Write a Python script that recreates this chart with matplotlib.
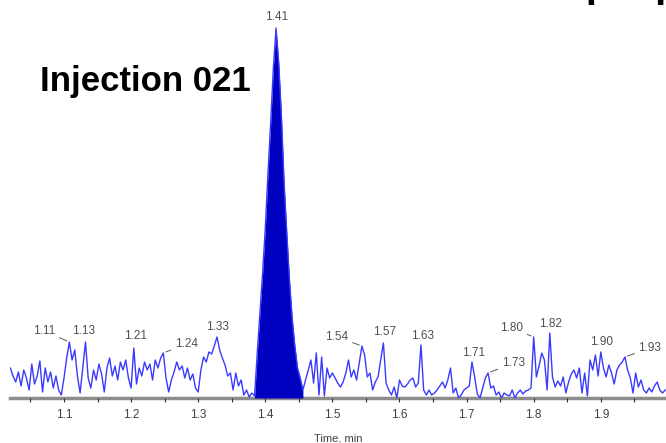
import matplotlib
matplotlib.use("Agg")
import matplotlib.pyplot as plt
import numpy as np

plt.rcParams['font.family'] = ['Liberation Sans', 'DejaVu Sans']

# acquisition grid (min) and signal
t_start = 1.020
t_step = 0.004
intensity = [
    # 1.020 - 1.096
    30, 22, 16, 26, 12, 28, 20, 8, 34, 14, 22, 37, 6, 30, 16, 26, 10, 22, 8, 3,
    # 1.100 - 1.196
    20, 40, 56, 38, 48, 22, 5, 30, 56, 20, 10, 28, 18, 34, 24, 6, 30, 40, 22, 32, 18, 36, 28, 38, 20,
    # 1.200 - 1.296
    10, 50, 14, 30, 22, 36, 28, 34, 18, 38, 30, 40, 45, 20, 6, 18, 26, 36, 28, 32, 20, 30, 18, 24, 10,
    # 1.300 - 1.396
    6, 28, 41, 36, 46, 44, 52, 61, 48, 40, 33, 22, 25, 8, 25, 12, 18, 3, 8, 1, 5, 2, 45, 85, 125,
    # 1.400 - 1.496
    170, 225, 275, 330, 370, 335, 282, 215, 165, 118, 80, 52, 30, 20, 8, 18, 28, 38, 15, 45, 3, 41, 2, 30, 20,
    # 1.500 - 1.596
    25, 20, 15, 11, 16, 25, 38, 21, 28, 18, 35, 52, 43, 21, 25, 8, 16, 21, 38, 55, 15, 8, 3, 11, 0,
    # 1.600 - 1.696
    18, 12, 11, 14, 18, 20, 11, 15, 53, 8, 3, 8, 3, 5, 8, 12, 16, 10, 18, 30, 5, 10, 0, 3, 8,
    # 1.700 - 1.796
    10, 12, 36, 21, 4, 0, 10, 20, 25, 10, 12, 3, 6, 0, 5, 3, 2, 8, 0, 5, 8, 4, 7, 8, 10,
    # 1.800 - 1.896
    61, 21, 32, 45, 38, 8, 65, 21, 11, 17, 12, 21, 5, 16, 24, 28, 20, 30, 5, 25, 2, 38, 28, 43, 22,
    # 1.900 - 1.996
    46, 30, 21, 33, 25, 14, 28, 33, 36, 41, 28, 20, 5, 25, 11, 18, 8, 5, 10, 6, 12, 16, 8, 5, 8,
]

# integrated peak window
peak_from = 1.384
peak_to = 1.456

# labelled apexes
label_times = [1.108, 1.132, 1.204, 1.248, 1.328, 1.416, 1.544, 1.576,
               1.632, 1.708, 1.732, 1.800, 1.824, 1.900, 1.936]
label_texts = ['1.11', '1.13', '1.21', '1.24', '1.33', '1.41', '1.54', '1.57',
               '1.63', '1.71', '1.73', '1.80', '1.82', '1.90', '1.93']
# text offset from apex in pixels, and whether a leader line is drawn
label_offsets = [(-25, 11), (-2, 11), (2, 12), (23, 9), (0, 10), (1, 11), (-25, 9), (1, 11),
                 (2, 9), (2, 9), (25, 10), (-22, 9), (1, 9), (1, 10), (25, 9)]
label_leader = [True, False, False, True, False, False, True, False,
                False, False, True, True, False, False, True]

time = t_start + t_step * np.arange(len(intensity))
intensity = np.array(intensity, dtype=float)

fig = plt.figure(figsize=(6.66, 4.43), dpi=100)
ax = fig.add_axes([10 / 666, 45 / 443, 656 / 666, 398 / 443])

in_peak = (time >= peak_from) & (time <= peak_to)
ax.fill_between(time, 0, intensity, where=in_peak, color='#0000c0', lw=0, zorder=2)
ax.plot(time, intensity, color='#3a3aff', lw=1.0, zorder=3)

for t, txt, (dx, dy), lead in zip(label_times, label_texts, label_offsets, label_leader):
    h = intensity[np.argmin(np.abs(time - t))]
    kw = {}
    if lead:
        kw['arrowprops'] = dict(arrowstyle='-', color='#555555', lw=0.7,
                                shrinkA=1, shrinkB=2)
    ax.annotate(txt, xy=(t, h), xytext=(dx, dy), textcoords='offset pixels',
                ha='center', va='center', fontsize=8.5, color='#505050', **kw)

ax.set_xlim(1.0195, 1.9972)
ax.set_ylim(0, 398)
ax.set_yticks([])
for s in ('top', 'left', 'right'):
    ax.spines[s].set_visible(False)
ax.spines['bottom'].set_color('#8c8c8c')
ax.spines['bottom'].set_linewidth(2.5)
ax.spines['bottom'].set_zorder(1)

ax.set_xticks(np.arange(1.1, 1.95, 0.1))
ax.set_xticklabels(['1.1', '1.2', '1.3', '1.4', '1.5', '1.6', '1.7', '1.8', '1.9'])
ax.set_xticks(np.arange(1.05, 1.99, 0.05), minor=True)
ax.tick_params(axis='x', which='both', direction='out', length=3, width=0.8,
               color='#333333', labelsize=8.5, labelcolor='#404040', pad=5)
ax.set_xlabel('Time, min', fontsize=8, color='#404040', labelpad=9)
ax.patch.set_visible(False)

fig.text(40 / 666, 1 - 91 / 443, 'Injection 021', fontsize=25, fontweight='bold',
         ha='left', va='baseline', color='black')
# title clipped by the top edge of the image
fig.text(530 / 666, 1 + 3 / 443, '00 pM p', fontsize=29, fontweight='bold',
         ha='left', va='baseline', color='black')

fig.savefig('out.png', dpi=100)
